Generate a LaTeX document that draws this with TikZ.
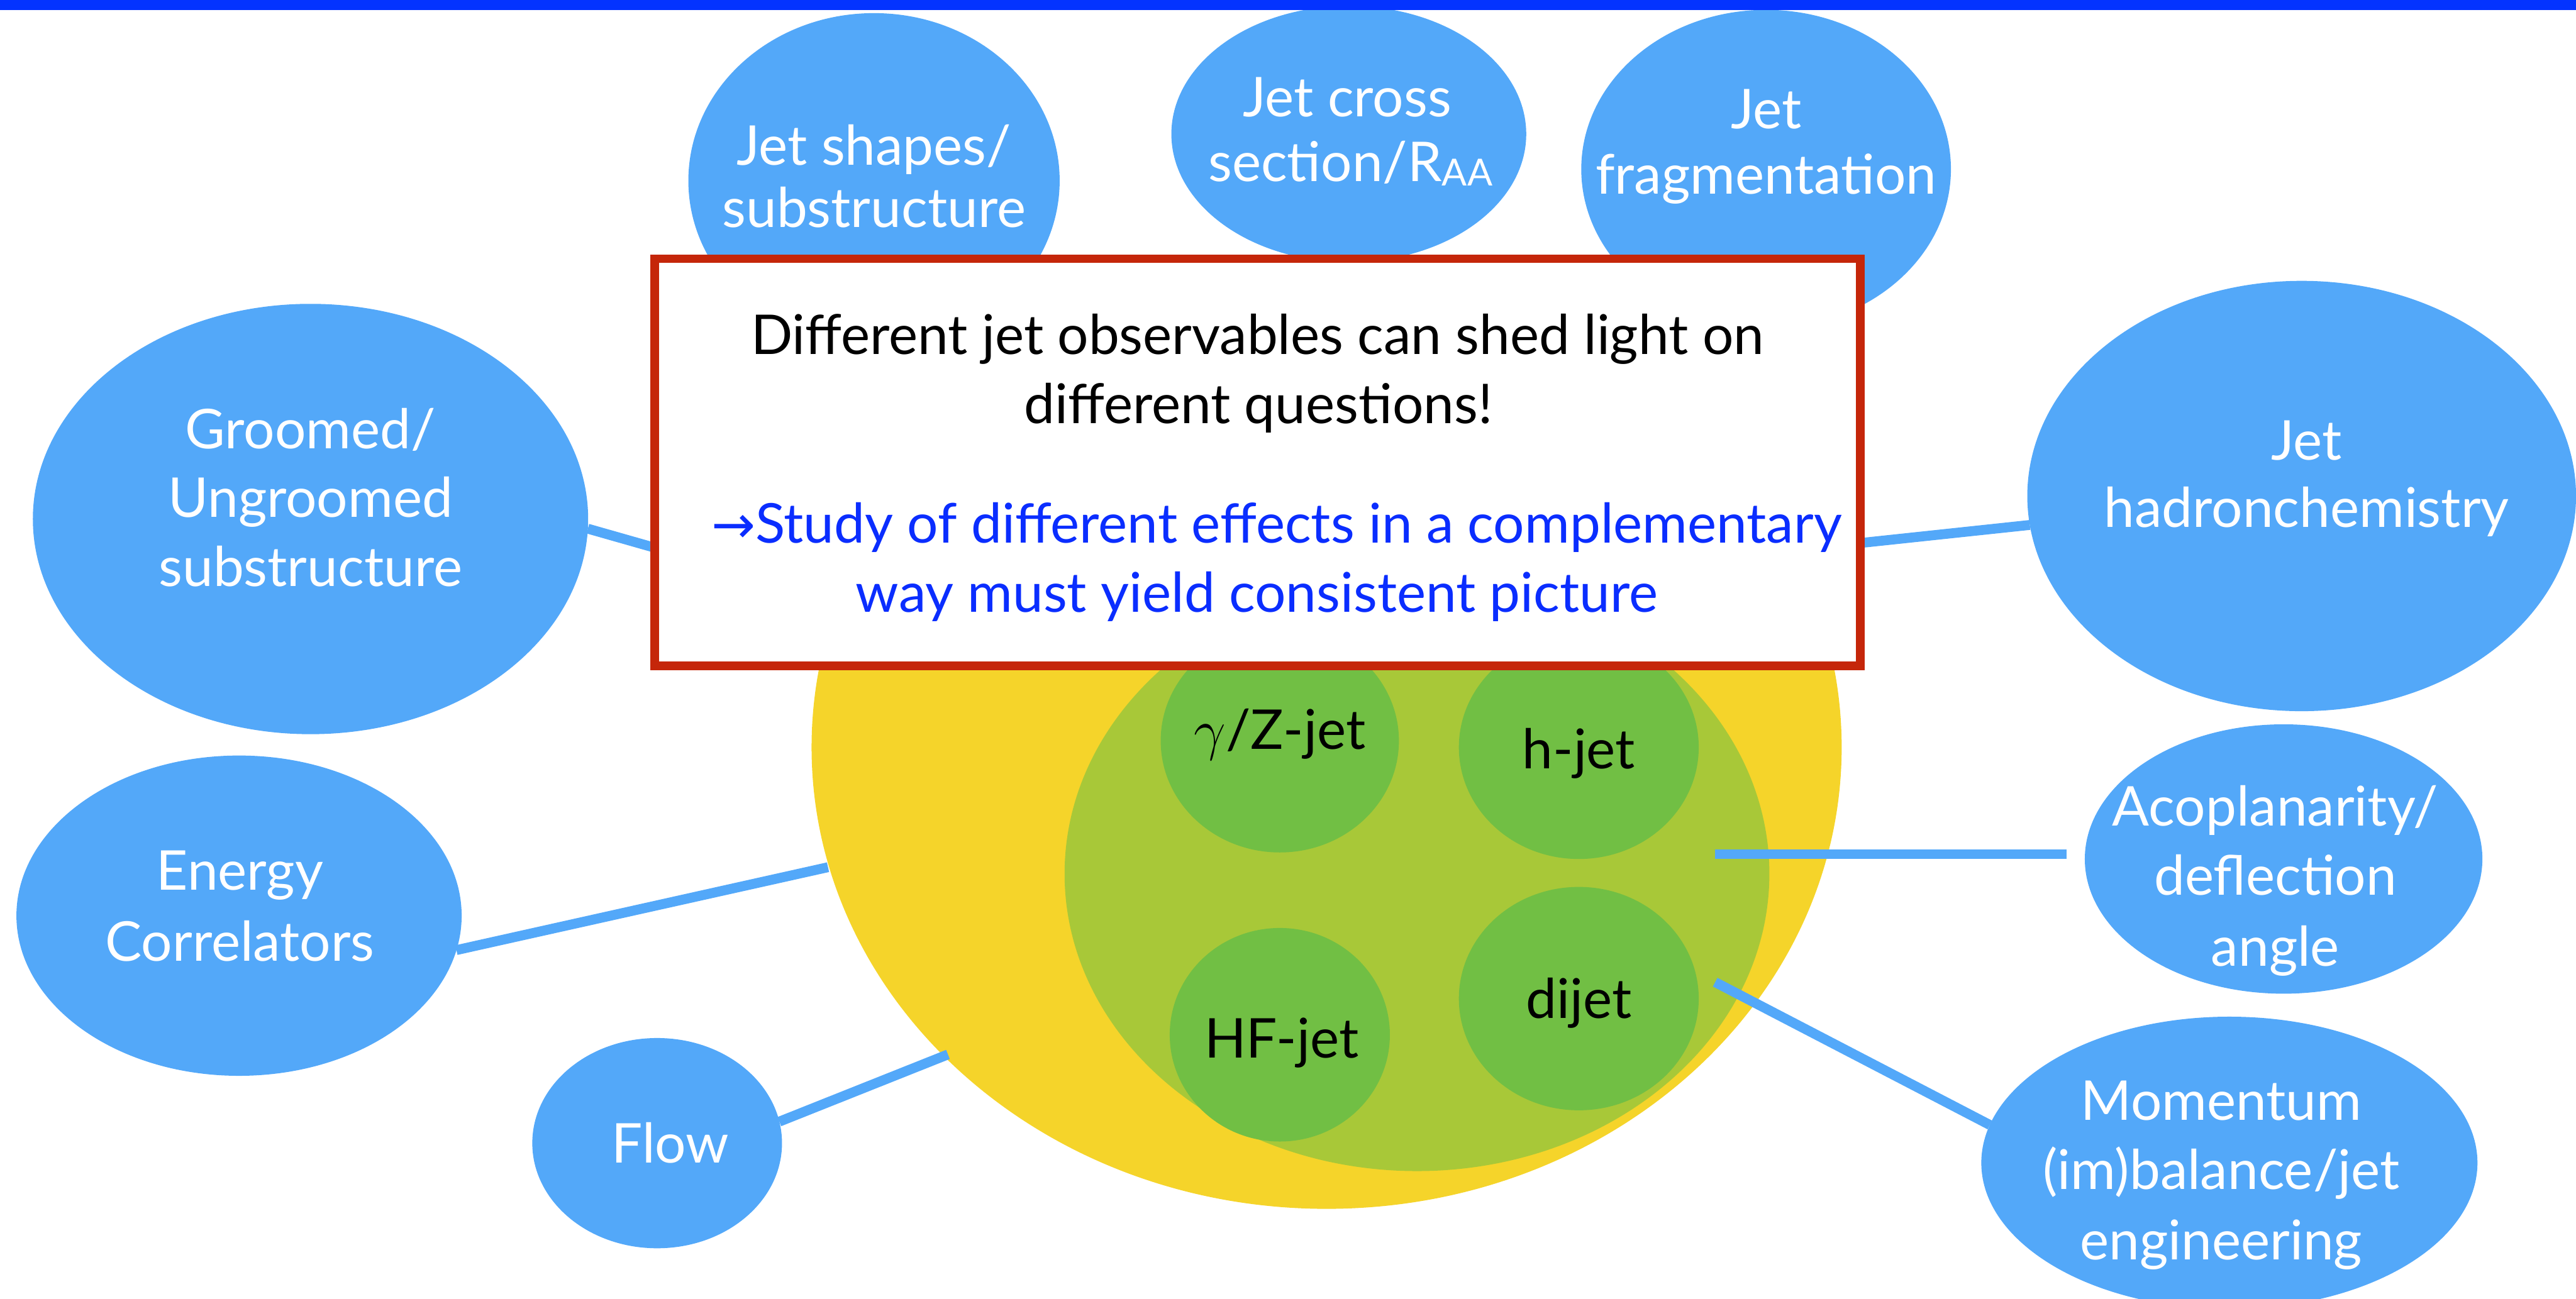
\documentclass[tikz,border=0pt]{standalone}
\usepackage{fontspec}
\setmainfont{Lato}
\newfontfamily\arrowfont{DejaVu Sans}
\usetikzlibrary{shapes.geometric}
\definecolor{ellblue}{HTML}{53A8F9}
\definecolor{barblue}{HTML}{0433FF}
\definecolor{yel}{HTML}{F5D42A}
\definecolor{olivegr}{HTML}{A8C838}
\definecolor{jgreen}{HTML}{71BF44}
\definecolor{boxred}{HTML}{C5260A}
\definecolor{txtblue}{HTML}{0A2DFF}
\newcommand\lblfont{\fontsize{16.7pt}{20pt}\selectfont}
\tikzset{
  blueell/.style={ellipse, fill=ellblue, inner sep=0pt, outer sep=0pt},
  yelell/.style={ellipse, fill=yel, inner sep=0pt, outer sep=0pt},
  oliveell/.style={ellipse, fill=olivegr, inner sep=0pt, outer sep=0pt},
  greenell/.style={ellipse, fill=jgreen, inner sep=0pt, outer sep=0pt},
  wlbl/.style={anchor=base, inner sep=0pt, outer sep=0pt, font=\lblfont, text=white},
  klbl/.style={anchor=base, inner sep=0pt, outer sep=0pt, font=\lblfont, text=black},
  blbl/.style={anchor=base, inner sep=0pt, outer sep=0pt, font=\lblfont, text=txtblue},
  conn/.style={draw=ellblue, line width=3pt},
  msgbox/.style={draw=boxred, line width=2.6pt, fill=white, inner sep=0pt, outer sep=0pt}
}
\begin{document}
\begin{tikzpicture}[x=0.5pt,y=-0.5pt]
\useasboundingbox (0,0) rectangle (1568,790.8);
% central ellipses
\node[yelell, minimum width=313.5pt, minimum height=281pt] (yellow) at (807.5,455) {};
\node[oliveell, minimum width=214.5pt, minimum height=181pt] (olive) at (862.5,532) {};
\node[greenell, minimum width=72.5pt, minimum height=68pt] (gz) at (779,451) {};
\node[greenell, minimum width=73pt, minimum height=68pt] (hj) at (961,455) {};
\node[greenell, minimum width=67pt, minimum height=65pt] (hf) at (779,630) {};
\node[greenell, minimum width=73pt, minimum height=68pt] (dj) at (961,608) {};
\node[klbl] (gzt) at (779,456) {$\gamma$/Z-jet};
\node[klbl] (hjt) at (961,468) {h-jet};
\node[klbl] (hft) at (780,644) {HF-jet};
\node[klbl] (djt) at (961,620) {dijet};
% outer ellipses
\node[blueell, minimum width=113pt, minimum height=102pt] (shapes) at (532,110) {};
\node[blueell, minimum width=108pt, minimum height=78pt] (cross) at (821,81.6) {};
\node[blueell, minimum width=112.5pt, minimum height=97pt] (frag) at (1075,103) {};
\node[blueell, minimum width=169pt, minimum height=131pt] (groomed) at (189,316) {};
\node[blueell, minimum width=167pt, minimum height=131pt] (hadron) at (1401,302) {};
\node[blueell, minimum width=135.5pt, minimum height=97.5pt] (energy) at (145.5,557.5) {};
\node[blueell, minimum width=76pt, minimum height=64pt] (flow) at (400,696) {};
\node[blueell, minimum width=121pt, minimum height=82pt] (acop) at (1390,523) {};
\node[blueell, minimum width=151pt, minimum height=89pt] (mom) at (1357,708) {};
% connector end points
\coordinate (cg) at (420,339.6);
\coordinate (ch) at (1110,333);
\coordinate (ce) at (504,528);
\coordinate (cf) at (577,642);
\coordinate (ca1) at (1044,520);
\coordinate (ca2) at (1258,520);
\coordinate (cm) at (1044,598);
% connectors
\draw[conn] (groomed.-2) -- (cg);
\draw[conn] (hadron) -- (ch);
\draw[conn] (energy.-9) -- (ce);
\draw[conn] (flow.10) -- (cf);
\draw[conn] (ca1) -- (ca2);
\draw[conn] (cm) -- (mom.171);
% labels of outer ellipses
\node[wlbl] (t1a) at (532,100.5) {Jet shapes/};
\node[wlbl] (t1b) at (532,138.5) {substructure};
\node[wlbl] (t2a) at (820,71) {Jet cross};
\node[wlbl] (t2b) at (822,110.6) {section/R\raisebox{-1.3pt}{\scalebox{0.68}{AA}}};
\node[wlbl] (t3a) at (1075,78.4) {Jet};
\node[wlbl] (t3b) at (1075,118) {fragmentation};
\node[wlbl] (t4a) at (189,273) {Groomed/};
\node[wlbl] (t4b) at (189,315) {Ungroomed};
\node[wlbl] (t4c) at (189,357) {substructure};
\node[wlbl] (t5a) at (1404,280) {Jet};
\node[wlbl] (t5b) at (1404,321) {hadronchemistry};
\node[wlbl] (t6a) at (1385,503) {Acoplanarity/};
\node[wlbl] (t6b) at (1385,545) {deflection};
\node[wlbl] (t6c) at (1385,588) {angle};
\node[wlbl] (t7a) at (1352,682) {Momentum};
\node[wlbl] (t7b) at (1352,724) {(im)balance/jet};
\node[wlbl] (t7c) at (1352,767) {engineering};
\node[wlbl] (t8a) at (146,542) {Energy};
\node[wlbl] (t8b) at (146,585) {Correlators};
\node[wlbl] (t9) at (408,708) {Flow};
% message box
\node[msgbox, minimum width=366.9pt, minimum height=123.9pt] (box) at (765.5,281.5) {};
\node[klbl] (m1) at (765.5,215.8) {Different jet observables can shed light on};
\node[klbl] (m2) at (766,257.8) {different questions!};
\node[blbl] (m3) at (777,330.5) {{\arrowfont\fontsize{16pt}{18pt}\selectfont →}Study of different effects in a complementary};
\node[blbl] (m4) at (765,372.6) {way must yield consistent picture};
% top bar
\fill[barblue] (0,0) rectangle (1568,6.1);
\end{tikzpicture}
\end{document}
